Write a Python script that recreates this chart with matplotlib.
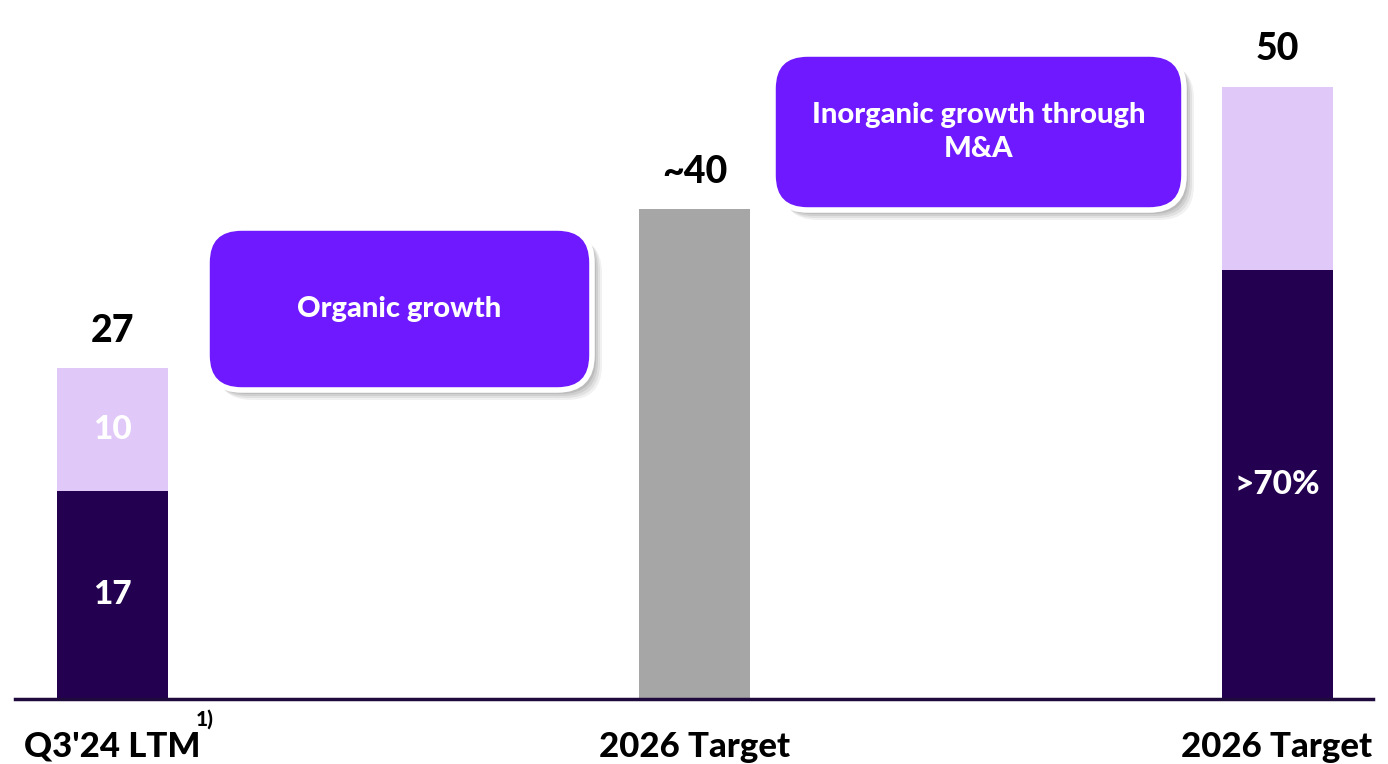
import matplotlib
matplotlib.use("Agg")
from matplotlib import pyplot as plt
from matplotlib.patches import FancyBboxPatch

plt.rcParams['font.family'] = ['Lato', 'DejaVu Sans']

categories = ["Q3'24 LTM", "2026 Target", "2026 Target"]
base_values = [17, 40, 35]
top_values = [10, 0, 15]
totals = ["27", "~40", "50"]
inner_labels = [["17", "10"], [None, None], [">70%", None]]

DARK = '#230050'
LIGHT = '#E0C9F9'
GREY = '#A6A6A6'
VIOLET = '#6E19FF'
WEIGHT = 'black'

W, H = 1388, 764
fig = plt.figure(figsize=(W / 100, H / 100), dpi=100)

# axes: bottom edge sits on the baseline, 12.25 px per unit
base_px = 699
ax = fig.add_axes([0, (H - base_px) / H, 1, base_px / H])
unit = 12.25
ax.set_ylim(0, base_px / unit)
step = 582.5
ax.set_xlim(-112 / step, 2 + (W - 1277) / step)

x = [0, 1, 2]
bw = 111 / step
base_colors = [DARK, GREY, DARK]
ax.bar(x, base_values, width=bw, color=base_colors, zorder=2)
ax.bar(x, top_values, width=bw, bottom=base_values, color=LIGHT, zorder=2)

for i in x:
    total = base_values[i] + top_values[i]
    ax.annotate(totals[i], (i, total), xytext=(0, 37), textcoords='offset pixels',
                ha='center', va='center', fontsize=27, fontweight=WEIGHT, color='black')
    lo, hi = inner_labels[i]
    if lo:
        ax.text(i, base_values[i] / 2, lo, ha='center', va='center',
                fontsize=24, fontweight=WEIGHT, color='white', zorder=3)
    if hi:
        ax.text(i, base_values[i] + top_values[i] / 2, hi, ha='center', va='center',
                fontsize=24, fontweight=WEIGHT, color='white', zorder=3)

ax.axhline(0, xmin=15 / W, xmax=1373 / W, color='#1E0A3C', lw=2.5, zorder=4, clip_on=False)

ax.set_xticks(x)
ax.set_xticklabels(categories, fontsize=25, fontweight=WEIGHT)
ax.tick_params(axis='x', length=0, pad=23)
ax.set_yticks([])
for s in ax.spines.values():
    s.set_visible(False)
ax.patch.set_alpha(0)

fig.text(205 / W, 1 - 719 / H, '1)', fontsize=15, fontweight=WEIGHT, ha='center', va='center')


def callout(x0, y0, x1, y1, lines):
    # rounded violet box with a white rim and a soft drop shadow, in pixel coords
    fx0, fx1 = x0 / W, x1 / W
    fy0, fy1 = 1 - y1 / H, 1 - y0 / H
    for k, a in enumerate([0.08, 0.10, 0.12, 0.15]):
        off = 10 - 2 * k
        sh = FancyBboxPatch((fx0 + off / W, fy0 - off / H), fx1 - fx0, fy1 - fy0,
                            boxstyle='round,pad=0,rounding_size=0.025',
                            transform=fig.transFigure, fc='#555555', ec='none',
                            alpha=a, mutation_aspect=W / H)
        fig.add_artist(sh)
    box = FancyBboxPatch((fx0, fy0), fx1 - fx0, fy1 - fy0,
                         boxstyle='round,pad=0,rounding_size=0.025',
                         transform=fig.transFigure, fc=VIOLET, ec='white', lw=4,
                         mutation_aspect=W / H)
    fig.add_artist(box)
    fig.text((fx0 + fx1) / 2, (fy0 + fy1) / 2, lines, ha='center', va='center',
             fontsize=21, fontweight=WEIGHT, color='white', linespacing=1.4)


callout(207, 228, 592, 390, 'Organic growth')
callout(773, 54, 1184, 210, 'Inorganic growth through\nM&A')

fig.savefig('out.png', dpi=100)
